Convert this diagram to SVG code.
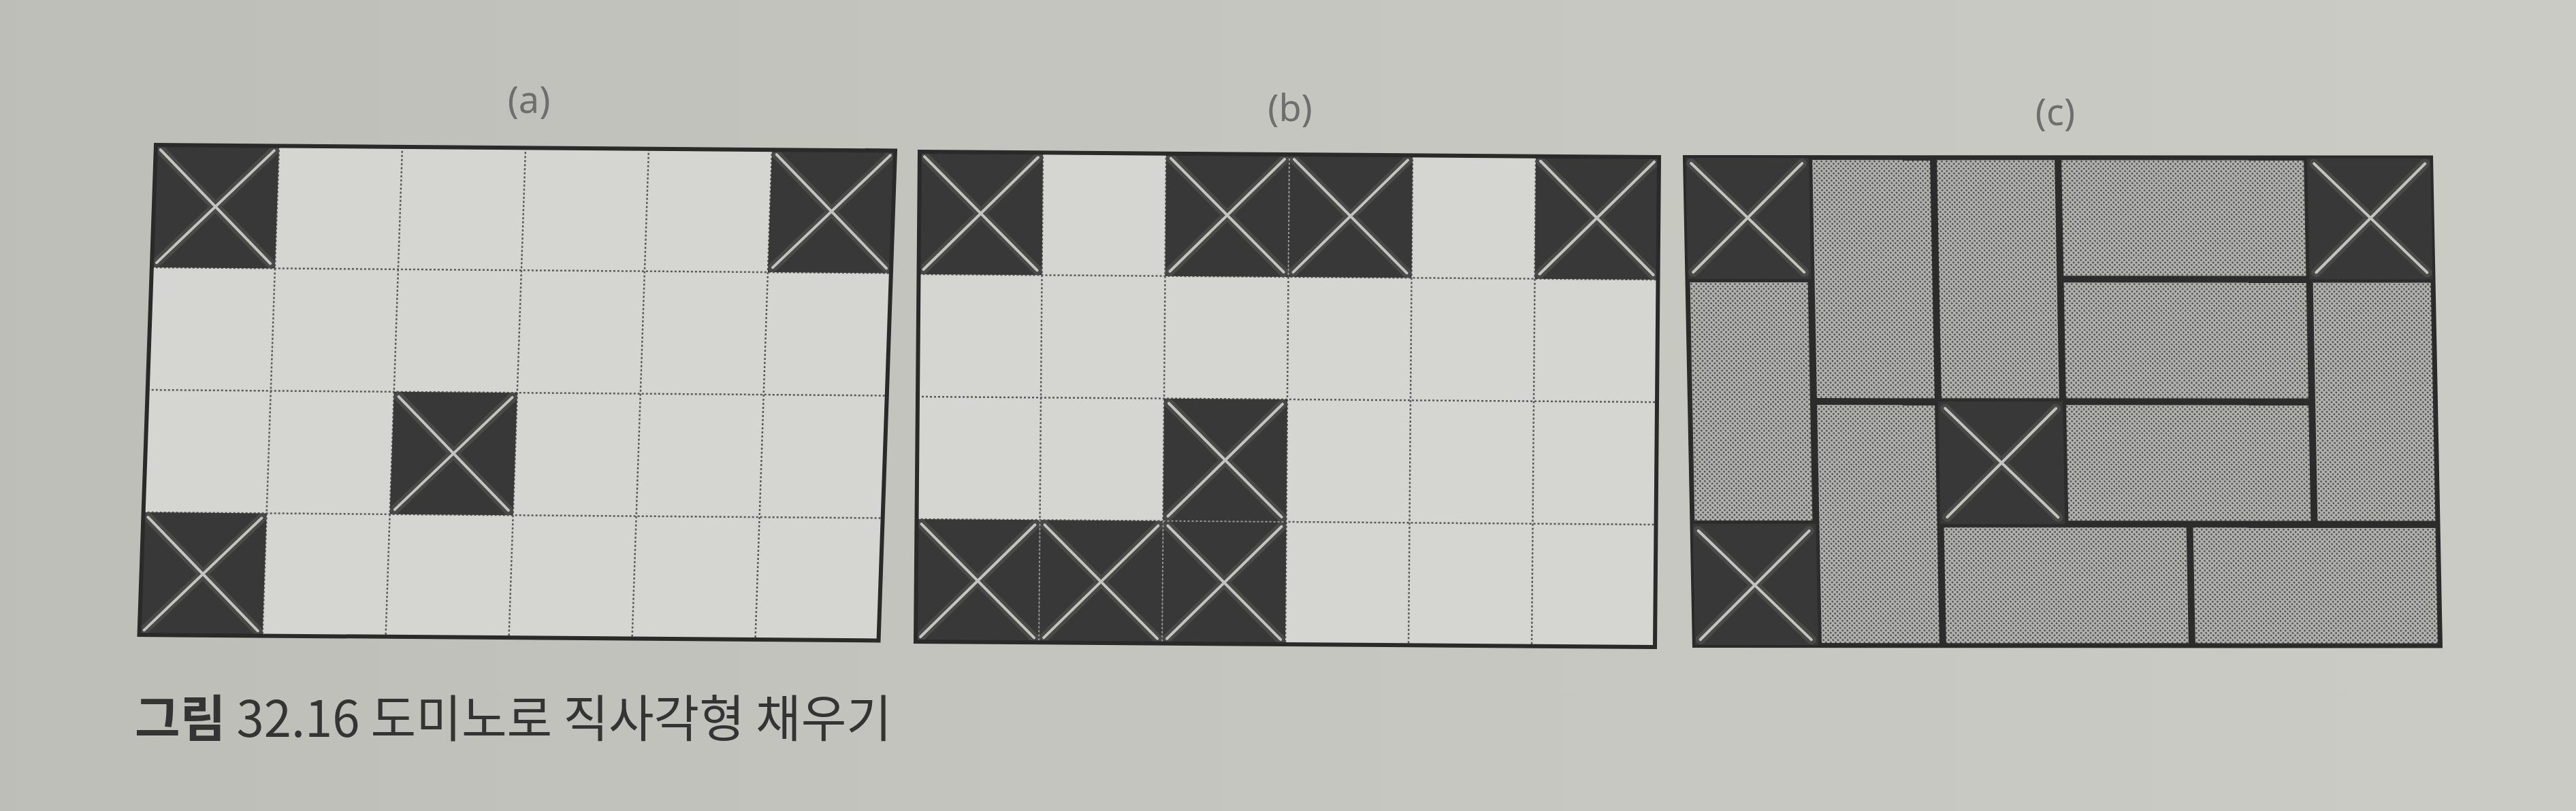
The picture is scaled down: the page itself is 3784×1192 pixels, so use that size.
<svg xmlns="http://www.w3.org/2000/svg" width="3784" height="1192" viewBox="0 0 3784 1192">
<style>
.paper{fill:url(#bg)}
.cell{fill:#d5d5d1}
.grid{stroke:#5a5a58;stroke-width:2.5;stroke-dasharray:3 3;fill:none}
.gridlt{stroke:#9a9a98;stroke-width:2;stroke-dasharray:3 3;fill:none}
.frame{fill:none;stroke:#2a2a2a;stroke-width:6}
.dark{fill:#383838}
.halo{stroke:#6a6a68;stroke-width:14;stroke-opacity:0.35;fill:none;stroke-linecap:round}
.xl{stroke:#c4c4c0;stroke-width:4;fill:none;stroke-linecap:round}
.dom{fill:url(#dots)}
.sep{fill:#2c2c2c}
.lbl{font-family:"Noto Sans","DejaVu Sans",sans-serif;font-size:54px;fill:#6e6e6c;text-anchor:middle}
.cap{font-family:"Noto Sans CJK KR","Noto Sans",sans-serif;font-size:74px;fill:#343434}
</style>
<defs>
<linearGradient id="bg" x1="0" y1="0" x2="1" y2="0">
<stop offset="0" stop-color="#bebeb9"/>
<stop offset="0.5" stop-color="#c6c6c1"/>
<stop offset="1" stop-color="#cbcbc6"/>
</linearGradient>
<pattern id="dots" width="5" height="5" patternUnits="userSpaceOnUse" patternTransform="rotate(45)">
<rect width="5" height="5" fill="#b2b2ae"/>
<circle cx="2.5" cy="2.5" r="1.35" fill="#3e3e3e"/>
</pattern>
<g id="xa">
<rect class="dark" width="181" height="180"/>
<path class="halo" d="M7,7 L174,173 M174,7 L7,173"/>
<path class="xl" d="M7,7 L174,173 M174,7 L7,173"/>
</g>
<g id="xc">
<rect class="dark" width="183" height="180"/>
<path class="halo" d="M10,10 L173,170 M173,10 L10,170"/>
<path class="xl" d="M10,10 L173,170 M173,10 L10,170"/>
</g>
</defs>

<rect class="paper" x="0" y="0" width="3784" height="1192"/>

<g id="labels">
<text class="lbl" x="777" y="166">(a)</text>
<text class="lbl" x="1895" y="178">(b)</text>
<text class="lbl" x="3019" y="184">(c)</text>
</g>

<g id="panel-a" transform="matrix(1 0.0078 -0.034 1 229 213)">
<rect class="cell" x="0" y="0" width="1086" height="720"/>
<path class="grid" d="M181,0V720 M362,0V720 M543,0V720 M724,0V720 M905,0V720 M0,180H1086 M0,360H1086 M0,540H1086"/>
<g id="a-t00"><use href="#xa" x="0" y="0"/></g>
<g id="a-t05"><use href="#xa" x="905" y="0"/></g>
<g id="a-t22"><use href="#xa" x="362" y="360"/></g>
<g id="a-t30"><use href="#xa" x="0" y="540"/></g>
<rect class="frame" x="0" y="0" width="1086" height="720"/>
</g>

<g id="panel-b" transform="matrix(1 0.0074 -0.0083 1 1351 223)">
<rect class="cell" x="0" y="0" width="1086" height="720"/>
<path class="grid" d="M181,0V720 M362,0V720 M543,0V720 M724,0V720 M905,0V720 M0,180H1086 M0,360H1086 M0,540H1086"/>
<g id="b-t00"><use href="#xa" x="0" y="0"/></g>
<g id="b-t02"><use href="#xa" x="362" y="0"/></g>
<g id="b-t03"><use href="#xa" x="543" y="0"/></g>
<g id="b-t05"><use href="#xa" x="905" y="0"/></g>
<g id="b-t22"><use href="#xa" x="362" y="360"/></g>
<g id="b-t30"><use href="#xa" x="0" y="540"/></g>
<g id="b-t31"><use href="#xa" x="181" y="540"/></g>
<g id="b-t32"><use href="#xa" x="362" y="540"/></g>
<path class="gridlt" d="M543,0V180 M181,540V720 M362,540V720 M362,540H543"/>
<rect class="frame" x="0" y="0" width="1086" height="720"/>
</g>

<g id="panel-c" transform="matrix(1 0.0005 0.0194 1 2474 230)">
<rect class="sep" x="0" y="0" width="1098" height="720"/>
<g id="c-d1"><rect class="dom" x="5" y="185" width="173" height="350"/></g>
<g id="c-d2"><rect class="dom" x="188" y="5" width="173" height="350"/></g>
<g id="c-d3"><rect class="dom" x="371" y="5" width="173" height="350"/></g>
<g id="c-d4"><rect class="dom" x="554" y="5" width="356" height="170"/></g>
<g id="c-d5"><rect class="dom" x="554" y="185" width="356" height="170"/></g>
<g id="c-d6"><rect class="dom" x="920" y="185" width="173" height="350"/></g>
<g id="c-d7"><rect class="dom" x="188" y="365" width="173" height="350"/></g>
<g id="c-d8"><rect class="dom" x="554" y="365" width="356" height="170"/></g>
<g id="c-d9"><rect class="dom" x="371" y="545" width="356" height="170"/></g>
<g id="c-d10"><rect class="dom" x="737" y="545" width="356" height="170"/></g>
<g id="c-t00"><use href="#xc" x="0" y="0"/></g>
<g id="c-t05"><use href="#xc" x="915" y="0"/></g>
<g id="c-t22"><use href="#xc" x="366" y="360"/></g>
<g id="c-t30"><use href="#xc" x="0" y="540"/></g>
<rect fill="none" stroke="#2a2a2a" stroke-width="4" x="0" y="0" width="1098" height="720"/>
</g>

<g id="caption">
<text class="cap" x="198" y="1083" textLength="1112" lengthAdjust="spacingAndGlyphs"><tspan font-weight="bold">그림</tspan> 32.16 도미노로 직사각형 채우기</text>
</g>
</svg>
